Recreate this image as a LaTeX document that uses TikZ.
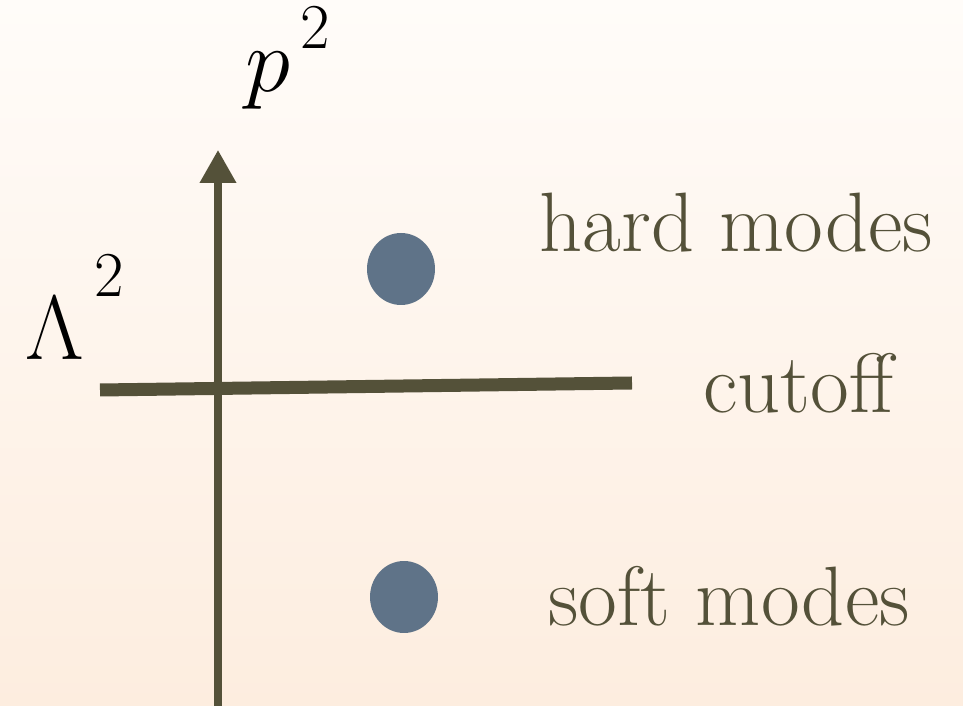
\RequirePackage{fix-cm}
\documentclass[tikz,border=0pt]{standalone}
\usetikzlibrary{arrows.meta,shapes.geometric}
\definecolor{kaki}{HTML}{545139}
\definecolor{ardoise}{HTML}{5F7388}
\definecolor{fondhaut}{HTML}{FFFCF9}
\definecolor{fondbas}{HTML}{FDEDDF}
\begin{document}
\begin{tikzpicture}[x=0.02cm,y=0.02cm]
	% Styles (MODIFIABLES)
	\tikzstyle{axe}=[-{Triangle[width=0.7cm,length=0.66cm]},draw=kaki,line width=4pt]
	\tikzstyle{coupure}=[draw=kaki,line width=7.4pt]
	\tikzstyle{mode}=[ellipse,fill=ardoise,inner sep=0pt,minimum width=1.36cm,minimum height=1.44cm]
	\tikzstyle{legende}=[kaki,inner sep=0pt,anchor=base west,font=\fontsize{48}{54}\selectfont]
	\tikzstyle{grandeur}=[black,inner sep=0pt,anchor=base west,font=\fontsize{52}{58}\selectfont]
	% Exposant (MODIFIABLE : hauteur)
	\def\Carre#1{^{\mkern3mu\raisebox{#1}{$\scriptstyle 2$}}}
	% Fond
	\shade[top color=fondhaut,bottom color=fondbas] (0,0) rectangle (963,706);
	\useasboundingbox (0,0) rectangle (963,706);
	% Points de l'axe et de la coupure
	\coordinate (origine) at (218,-4);
	\coordinate (sommet) at (218,556);
	\coordinate (gauche) at (100,316);
	\coordinate (droite) at (632,323);
	% Noeuds
	\node[mode] (dur) at (401,437) {};
	\node[mode] (mou) at (404,109) {};
	\node[grandeur] (impulsion) at (245,614) {$p\Carre{6pt}$};
	\node[grandeur] (lambda) at (25,346) {$\Lambda\Carre{17pt}$};
	\node[legende] (durs) at (539,454) {hard modes};
	\node[legende] (coup) at (703,293) {cutoff};
	\node[legende] (mous) at (548,80) {soft modes};
	% Arcs
	\draw[axe] (origine)--(sommet);
	\draw[coupure] (gauche)--(droite);
\end{tikzpicture}
\end{document}
